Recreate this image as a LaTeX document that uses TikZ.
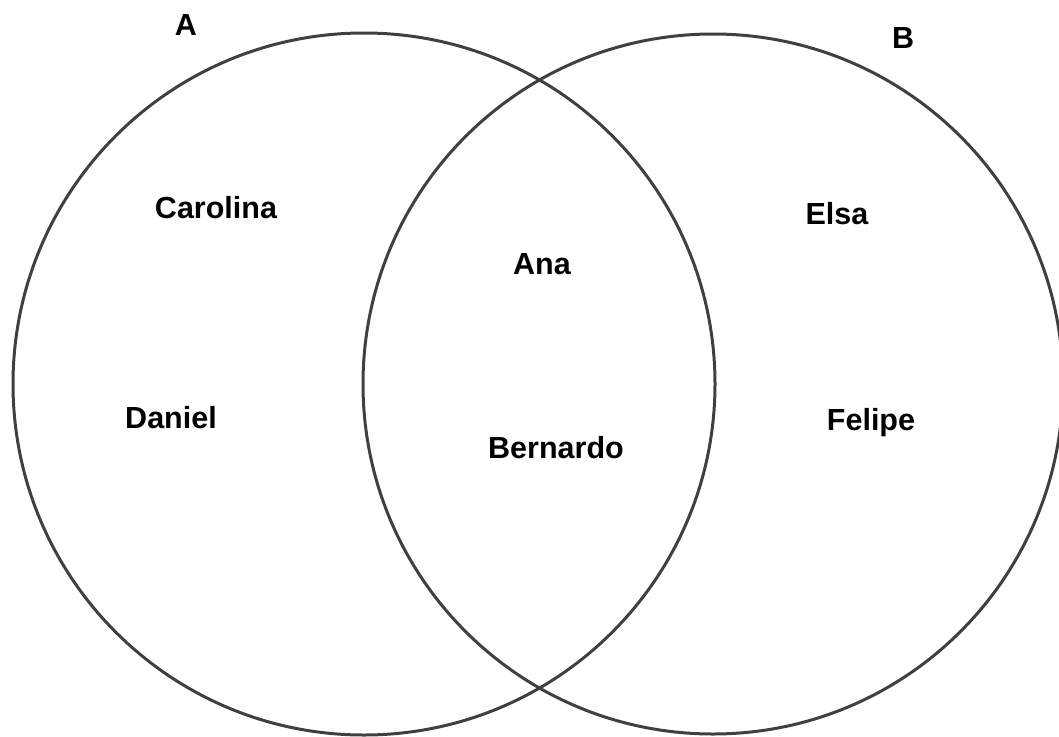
\documentclass[tikz,border=0pt]{standalone}
\usepackage{fontspec}
\setmainfont{Liberation Sans}
\usetikzlibrary{shapes.geometric}

\begin{document}
\begin{tikzpicture}[x=1pt,y=-1pt,
	set/.style={circle,draw=black!75,line width=3pt,inner sep=0pt,minimum size=#1},
	person/.style={anchor=base,font=\bfseries\fontsize{30.5}{36}\selectfont,inner sep=0pt}]

\useasboundingbox (0,0) rectangle (1059,736);

\node[set=702]   (setA) at (364,384)  {};
 \node[set=700]   (setB) at (713,384)  {};

	\node[person]   (labA)  at (186,35)    {A};
	\node[person]   (labB)  at (903,48)    {B};

	\node[person]   (carolina) at (216,218) {Carolina};
	\node[person]   (daniel)   at (171,428) {Daniel};
	\node[person]   (ana)      at (542,274) {Ana};
	\node[person]   (bernardo) at (556,458) {Bernardo};
	\node[person]   (elsa)     at (837,224) {Elsa};
	\node[person]   (felipe)   at (871,430) {Felipe};

	\end{tikzpicture}
\end{document}
